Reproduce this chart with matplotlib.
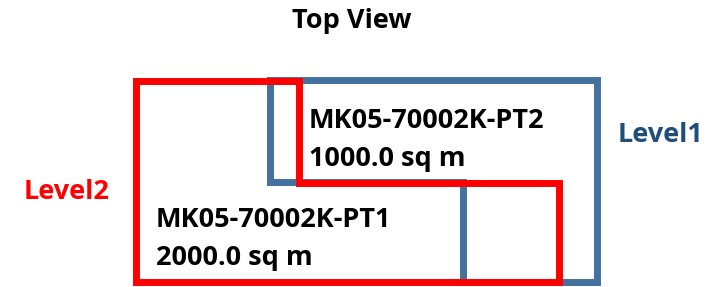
import matplotlib
matplotlib.use("Agg")
import matplotlib.pyplot as plt

# outlines of the two levels (top view, drawing units, y grows downwards)
level1_x = [270, 597, 597, 463, 463, 270, 270]
level1_y = [80, 80, 282, 282, 182, 182, 80]
level2_x = [136, 299, 299, 559, 559, 136, 136]
level2_y = [81, 81, 183, 183, 282, 282, 81]

parts = ["MK05-70002K-PT2", "MK05-70002K-PT1"]
areas = [1000.0, 2000.0]

blue = "#44719e"
dark_blue = "#1f4e79"
red = "#ff0000"

plt.rcParams['font.family'] = ['Open Sans', 'DejaVu Sans']

fig = plt.figure(figsize=(7.15, 2.87), dpi=100)
ax = fig.add_axes([0, 0, 1, 1])
ax.set_xlim(0, 715)
ax.set_ylim(287, 0)
ax.axis('off')

ax.plot(level1_x, level1_y, color=blue, lw=5, solid_joinstyle='miter')
ax.plot(level2_x, level2_y, color=red, lw=5, solid_joinstyle='miter')

bold = dict(fontweight='bold', va='baseline')
fs = 19.5
ax.text(352, 28, "Top View", ha='center', fontsize=fs, **bold)
ax.text(309, 128, parts[0], ha='left', fontsize=fs, **bold)
ax.text(309, 166, "%.1f sq m" % areas[0], ha='left', fontsize=fs, **bold)
ax.text(156, 227, parts[1], ha='left', fontsize=fs, **bold)
ax.text(156, 265, "%.1f sq m" % areas[1], ha='left', fontsize=fs, **bold)
ax.text(660, 142, "Level1", ha='center', fontsize=fs, color=dark_blue, **bold)
ax.text(67, 199, "Level2", ha='center', fontsize=fs, color=red, **bold)

fig.savefig("out.png", dpi=100)
